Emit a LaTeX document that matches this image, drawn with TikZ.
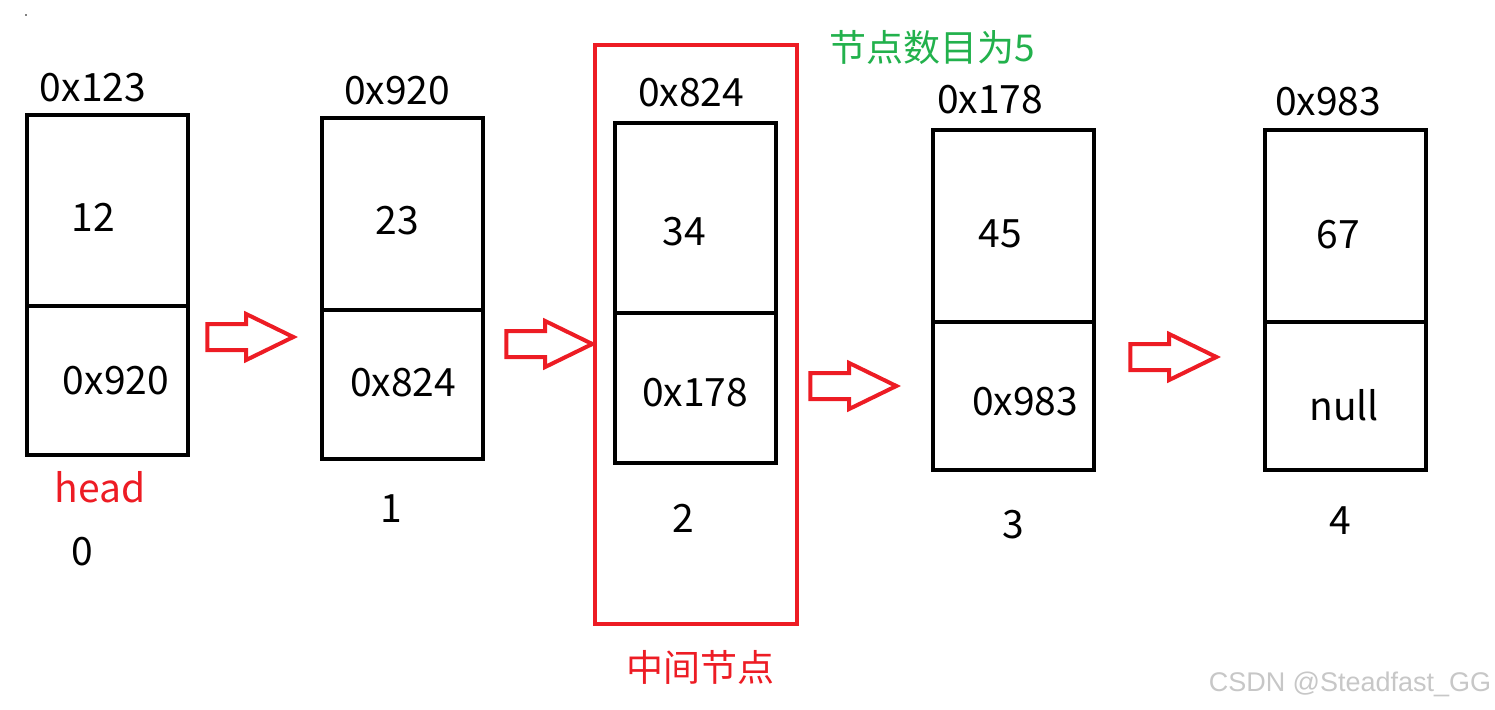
\documentclass[tikz,border=0pt]{standalone}
\usepackage{fontspec}
\setmainfont{Noto Sans CJK SC}
\newfontfamily\wmfont{Liberation Sans}
\usetikzlibrary{shapes.arrows}
\definecolor{lnred}{RGB}{237,28,36}
\definecolor{lngreen}{RGB}{34,177,76}

\begin{document}
\begin{tikzpicture}[x=1pt, y=-1pt,
	cell/.style={draw, line width=4pt, minimum width=161pt, inner sep=0pt, anchor=north west},
	txt/.style={font=\fontsize{39}{44}\selectfont, inner sep=0pt},
	redtxt/.style={txt, text=lnred},
	blkarrow/.style={single arrow, draw=lnred, line width=4pt, inner xsep=0pt, inner ysep=11pt,
		minimum height=86pt, minimum width=42pt, single arrow tip angle=52, single arrow head extend=10pt}]
	% 画布
	\useasboundingbox (0,0) rectangle (1495,709);
	\fill (26,15) circle (0.8pt);
	
	% 链表节点 (数据域 / 指针域)
	\foreach \i/\x/\yt/\ym/\yb in {0/25/113/304/453, 1/320/116/308/457, 2/613/121/311/461, 3/931/128/320/468, 4/1263/128/320/468} {
		\pgfmathsetmacro{\hd}{\ym-\yt}
		\pgfmathsetmacro{\hn}{\yb-\ym}
		\node[cell, minimum height=\hd pt] (d\i) at (\x,\yt) {};
		\node[cell, minimum height=\hn pt] (n\i) at (\x,\ym) {};
	}
	
	% 地址 / 数据 / 指针 / 下标
	\foreach \i/\ax/\ay/\addr/\vx/\vy/\val in {0/93/88/0x123/93/217/12, 1/397/91/0x920/397/221/23, 2/691/93/0x824/684/232/34, 3/990/100/0x178/1000/234/45, 4/1328/102/0x983/1338/235/67} {
		\node[txt] (addr\i) at (\ax,\ay) {\addr};
		\node[txt] (val\i) at (\vx,\vy) {\val};
	}
	\foreach \i/\px/\py/\ptr/\ix/\iy in {0/116/381/0x920/82/552, 1/403/383/0x824/391/509, 2/695/393/0x178/683/518, 3/1025/402/0x983/1013/525, 4/1344/405/null/1340/521} {
		\node[txt] (ptr\i) at (\px,\py) {\ptr};
		\node[txt] (idx\i) at (\ix,\iy) {\i};
	}
	\node[redtxt] (head) at (100,487) {head};
	
	% 红色箭头
	\node[blkarrow] (arr0) at (237,337) {};
	\node[blkarrow] (arr1) at (536,344) {};
	\node[blkarrow] (arr2) at (840,386) {};
	\node[blkarrow] (arr3) at (1160,357) {};
	
	% 中间节点框
	\node[draw=lnred, line width=3.6pt, minimum width=202pt, minimum height=579pt, inner sep=0pt] (mid) at (696,334.5) {};
	\node[redtxt, font=\fontsize{37}{40}\selectfont] (midlbl) at (700,667) {中间节点};
	\node[txt, text=lngreen, font=\fontsize{37}{40}\selectfont] (count) at (932,47) {节点数目为5};
	
	% 水印
	\node[inner sep=0pt, text=black!22, font=\wmfont\fontsize{27}{30}\selectfont] (wm) at (1350,684) {CSDN @Steadfast\_GG};
\end{tikzpicture}
\end{document}
